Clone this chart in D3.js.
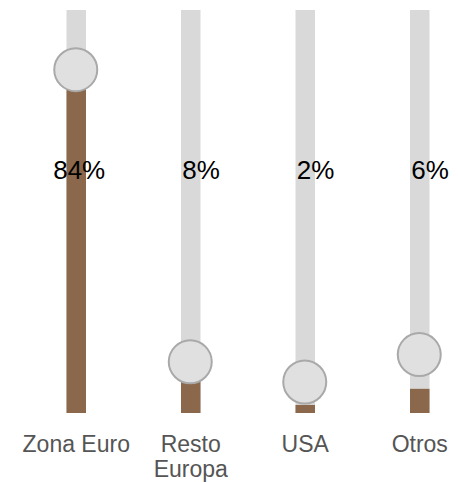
<!DOCTYPE html>
<html>
<head>
<meta charset="utf-8">
<script src="https://cdn.jsdelivr.net/npm/d3@7/dist/d3.min.js"></script>
<style>
  html, body { margin: 0; padding: 0; background: #fff; }
  svg { display: block; }
</style>
</head>
<body>
<svg id="chart" width="458" height="482"></svg>
<script>
// Share of exports by destination
const categories = ["Zona Euro", "Resto\nEuropa", "USA", "Otros"];
const shares = [84, 8, 2, 6];            // percent, drawn as the filled bar
const handlePositions = [85.2, 12.7, 7.7, 14.5]; // percent, slider knob positions
const valueLabels = ["84%", "8%", "2%", "6%"];

const svg = d3.select("#chart");
const width = 458;

const x = d3.scaleBand()
  .domain(categories)
  .range([19, 477])
  .paddingInner(0);

const y = d3.scaleLinear()
  .domain([0, 100])
  .range([413, 10]);

const trackW = 19.5;
const cx = d => x(d) + x.bandwidth() / 2;

const cols = svg.selectAll("g.col")
  .data(categories.map((c, i) => ({
    cat: c, share: shares[i], handle: handlePositions[i], label: valueLabels[i]
  })))
  .join("g")
  .attr("class", "col");

// background track
cols.append("rect")
  .attr("x", d => cx(d.cat) - trackW / 2)
  .attr("y", y(100))
  .attr("width", trackW)
  .attr("height", y(0) - y(100))
  .attr("fill", "#d9d9d9");

// filled portion
cols.append("rect")
  .attr("x", d => cx(d.cat) - trackW / 2)
  .attr("y", d => y(d.share))
  .attr("width", trackW)
  .attr("height", d => y(0) - y(d.share))
  .attr("fill", "#8b684c");

// knob
cols.append("circle")
  .attr("cx", d => cx(d.cat) - 0.5)
  .attr("cy", d => y(d.handle))
  .attr("r", 21.5)
  .attr("fill", "#e0e0e0")
  .attr("stroke", "#a9a9a9")
  .attr("stroke-width", 2);

// value labels
cols.append("text")
  .attr("x", d => cx(d.cat) + 29)
  .attr("y", 179)
  .attr("text-anchor", "end")
  .attr("font-family", "'Liberation Sans', Arial, sans-serif")
  .attr("font-size", 26)
  .attr("fill", "#000")
  .text(d => d.label);

// category labels
cols.append("text")
  .attr("text-anchor", "middle")
  .attr("font-family", "'Liberation Sans', Arial, sans-serif")
  .attr("font-size", 23)
  .attr("fill", "#555")
  .each(function(d) {
    const lines = d.cat.split("\n");
    d3.select(this).selectAll("tspan")
      .data(lines)
      .join("tspan")
      .attr("x", cx(d.cat))
      .attr("y", (l, i) => 452 + i * 25)
      .text(l => l);
  });
</script>
</body>
</html>
